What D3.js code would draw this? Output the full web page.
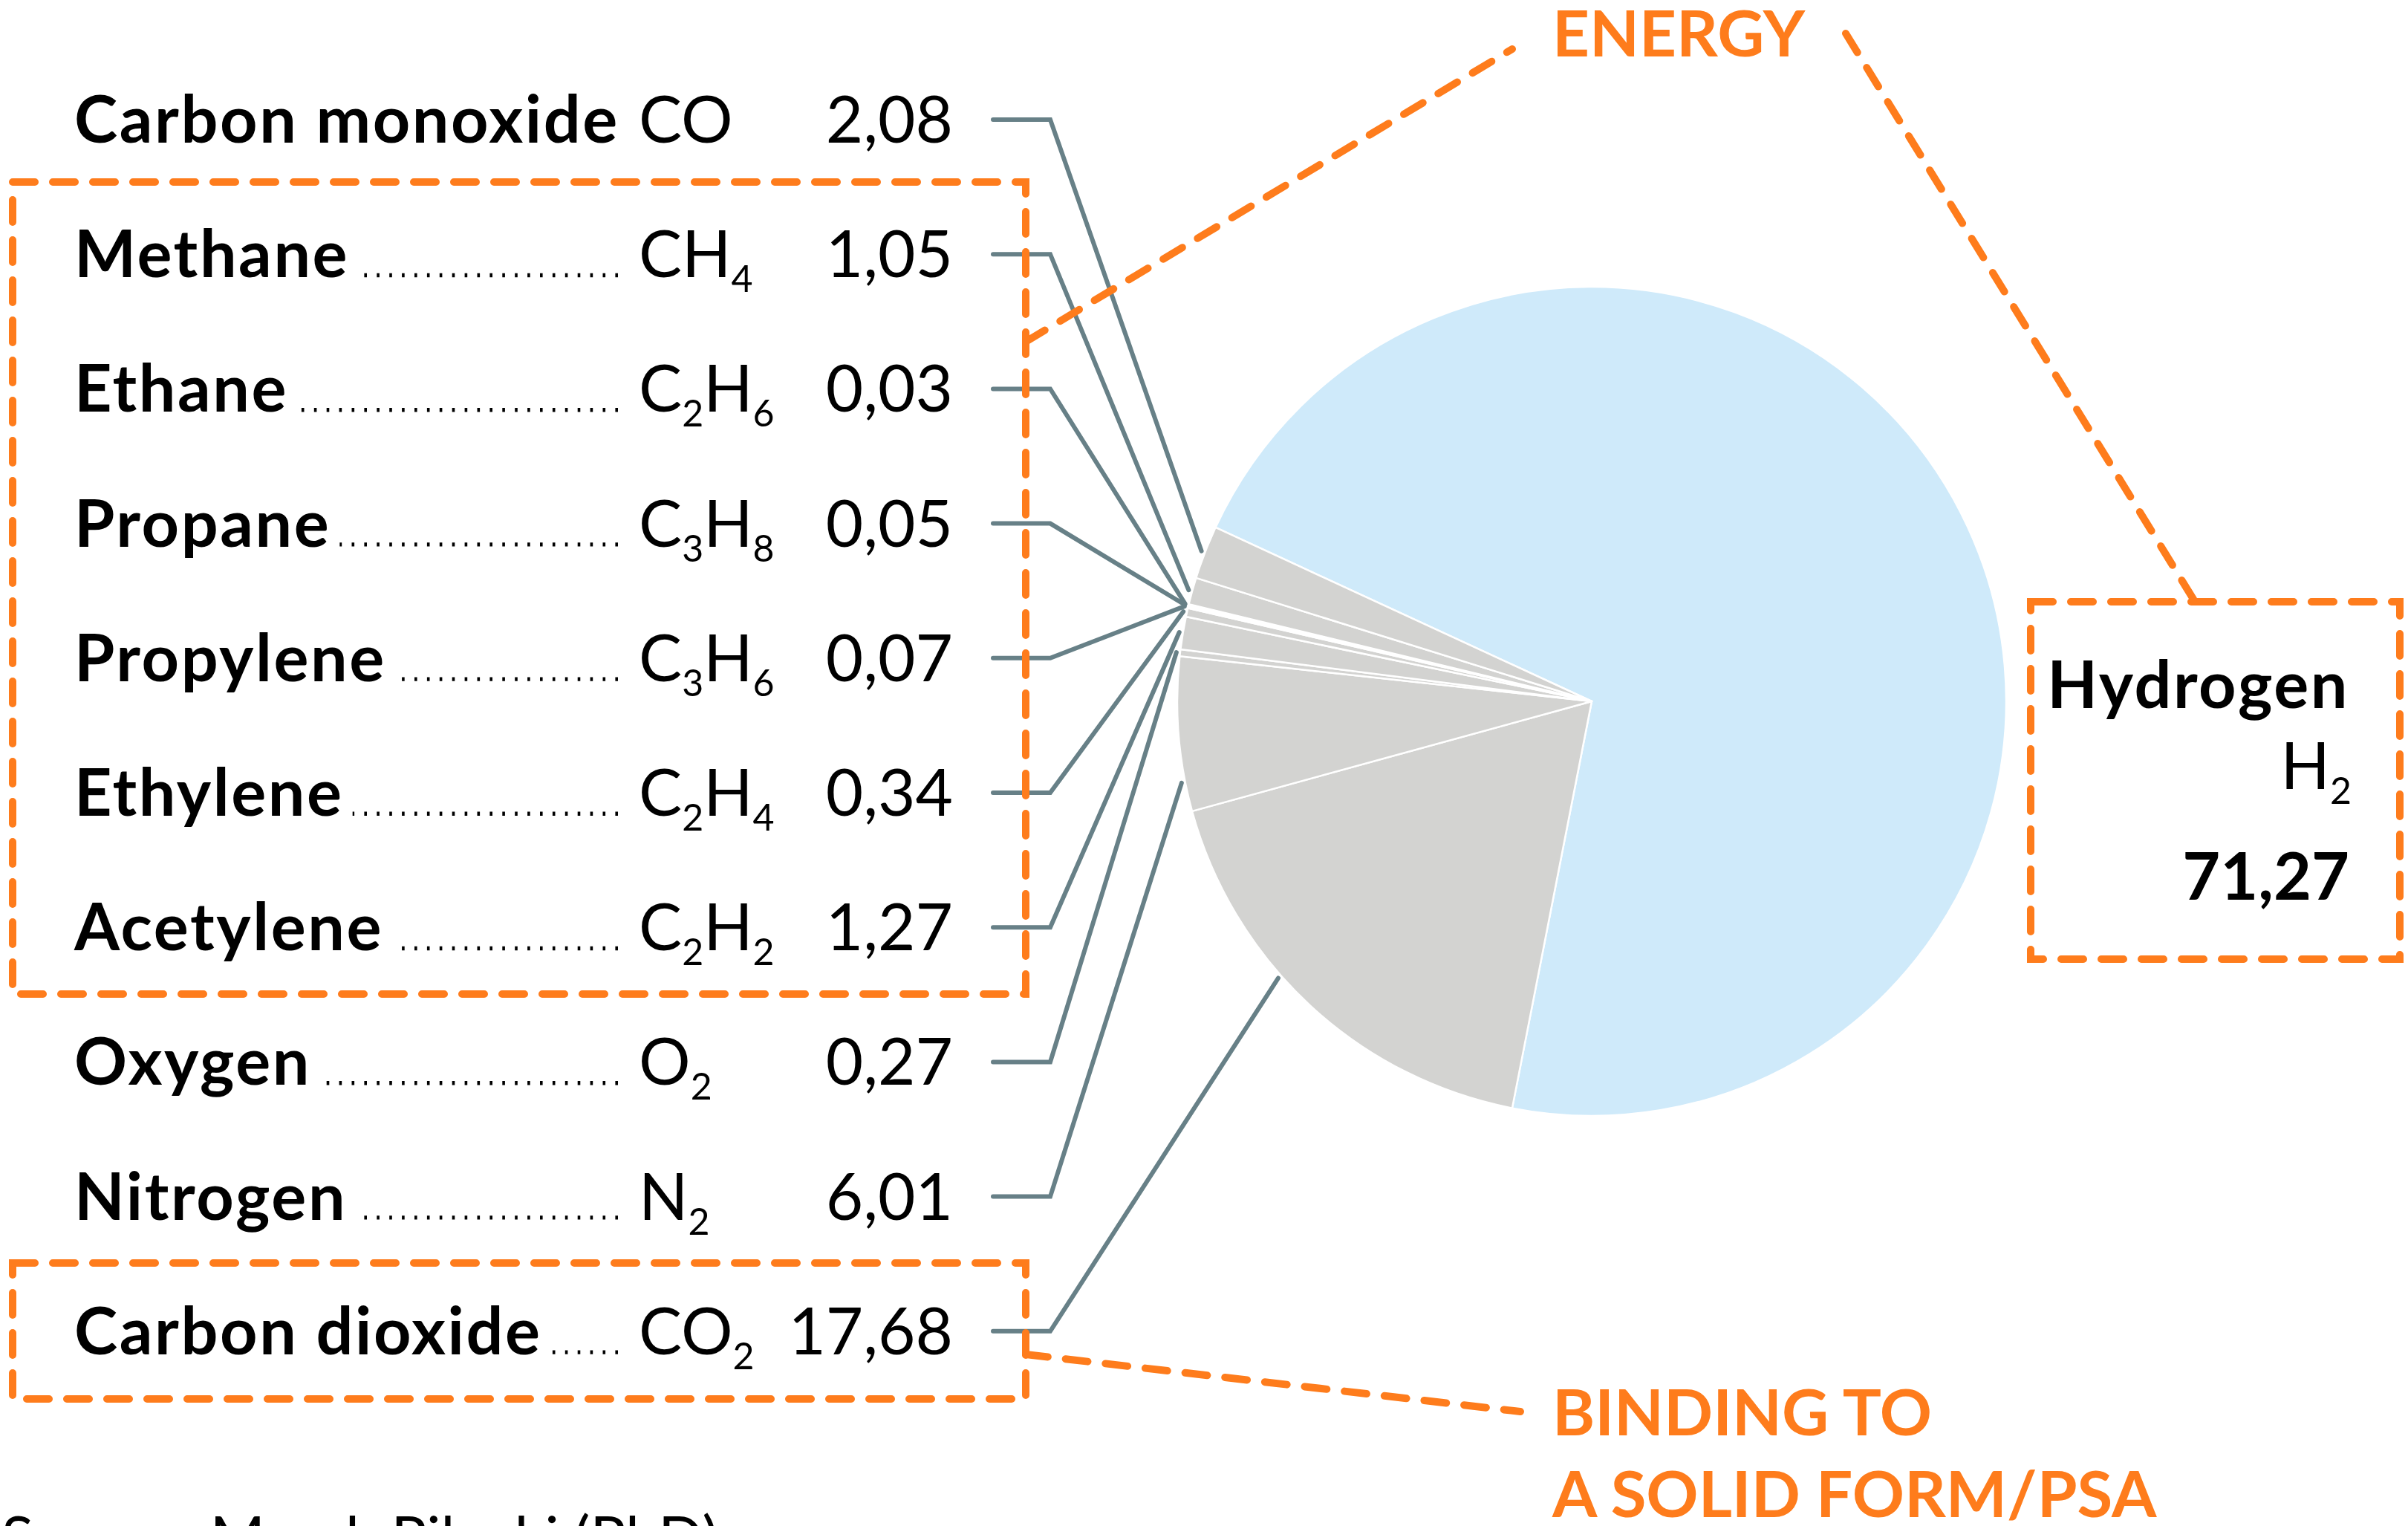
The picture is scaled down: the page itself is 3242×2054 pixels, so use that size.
<!DOCTYPE html>
<html>
<head>
<meta charset="utf-8">
<script src="https://cdn.jsdelivr.net/npm/d3@7"></script>
<style>
  html, body { margin: 0; padding: 0; background: #fff; }
  svg { display: block; }
</style>
</head>
<body>
<svg id="chart" width="3242" height="2054"></svg>
<script>
// Composition of the gas mixture (% by volume)
const gasNames    = ["Carbon monoxide", "Methane", "Ethane", "Propane", "Propylene",
                     "Ethylene", "Acetylene", "Oxygen", "Nitrogen", "Carbon dioxide"];
const gasFormulas = ["CO", "CH4", "C2H6", "C3H8", "C3H6", "C2H4", "C2H2", "O2", "N2", "CO2"];
const gasShares   = [2.08, 1.05, 0.03, 0.05, 0.07, 0.34, 1.27, 0.27, 6.01, 17.68];

const mainName    = "Hydrogen";
const mainFormula = "H2";
const mainShare   = 71.27;

const groupLabels = ["ENERGY", "BINDING TO", "A SOLID FORM/PSA"];
const sourceNote  = "Source: Marek Pilecki (PhD)";

// ---- layout ----
const cx = 2143, cy = 944, R = 558;
const FONT = "Lato, 'Open Sans', sans-serif";
const FS = 87;                 // main text size
const FS_NAME = 88;            // bold gas names
const NAME_SPACING = 2.6;      // extra tracking for the bold names
const SUB = 50;                // subscript size
const SUB_DY = 20;             // subscript drop
const ORANGE = "#fe7c1c";
const LEADER = "#678087";
const BLUE = "#cfeafa";
const GREY = "#d3d3d1";

const nameX = 100, formulaX = 860, valueX = 1283, dotsEnd = 832;
const leadStartX = 1337, leadElbowX = 1414, anchorR = 563;
// where along its slice each leader meets the rim (0 = slice start, 1 = slice end)
const anchorFrac = { "Nitrogen": 0.19, "Carbon dioxide": 0.59 };

const svg = d3.select("#chart");
const comma = d3.formatLocale({ decimal: ",", thousands: ".", grouping: [3], currency: ["", ""] }).format(".2f");

const rowY = d3.scalePoint().domain(gasNames).range([161, 161 + 9 * 181.2]);

// ---- pie ----
const rows = gasNames.map((n, i) => ({ name: n, formula: gasFormulas[i], value: gasShares[i] }));
const pieData = [{ name: mainName, formula: mainFormula, value: mainShare, main: true }]
  .concat(rows.slice().reverse());

const start = -65.2 * Math.PI / 180;
const pie = d3.pie().sort(null).value(d => d.value).startAngle(start).endAngle(start + 2 * Math.PI);
const arcs = pie(pieData);
const arc = d3.arc().innerRadius(0).outerRadius(R);

const gPie = svg.append("g").attr("transform", `translate(${cx},${cy})`);
gPie.selectAll("path").data(arcs).join("path")
  .attr("d", arc)
  .attr("fill", d => d.data.main ? BLUE : GREY)
  .attr("stroke", "#fff")
  .attr("stroke-width", 2.5)
  .attr("stroke-linejoin", "round");

// ---- leader lines ----
const arcByName = new Map(arcs.map(a => [a.data.name, a]));
const line = d3.line();
svg.append("g").selectAll("path").data(rows).join("path")
  .attr("d", d => {
    const a = arcByName.get(d.name);
    const f = anchorFrac[d.name] ?? 0.5;
    const ang = a.startAngle + f * (a.endAngle - a.startAngle);
    const y = rowY(d.name);
    return line([[leadStartX, y], [leadElbowX, y],
                 [cx + anchorR * Math.sin(ang), cy - anchorR * Math.cos(ang)]]);
  })
  .attr("fill", "none")
  .attr("stroke", LEADER)
  .attr("stroke-width", 6)
  .attr("stroke-linecap", "round")
  .attr("stroke-linejoin", "miter");

// ---- formula with subscripts ----
function writeFormula(textSel, formula) {
  let sub = false;
  formula.match(/[A-Za-z]+|\d+/g).forEach(part => {
    const isSub = /\d/.test(part);
    const t = textSel.append("tspan").text(part);
    if (isSub) { t.attr("font-size", SUB); if (!sub) t.attr("dy", SUB_DY); }
    else if (sub) t.attr("dy", -SUB_DY);
    sub = isSub;
  });
}

// ---- label rows ----
const gRows = svg.append("g").attr("font-family", FONT).attr("fill", "#000");
rows.forEach(d => {
  const base = rowY(d.name) + 31;
  const nameText = gRows.append("text")
    .attr("x", nameX).attr("y", base)
    .attr("font-size", FS_NAME).attr("font-weight", 700)
    .attr("letter-spacing", NAME_SPACING)
    .text(d.name);
  const endX = nameX + nameText.node().getComputedTextLength();
  if (dotsEnd - endX > 50) {
    gRows.append("line")
      .attr("x1", dotsEnd).attr("x2", endX + 12)
      .attr("y1", base - 2.7).attr("y2", base - 2.7)
      .attr("stroke", "#000").attr("stroke-width", 5.4)
      .attr("stroke-dasharray", "3.6 13.3");
  }
  const f = gRows.append("text")
    .attr("x", formulaX).attr("y", base)
    .attr("font-size", FS).attr("font-weight", 400);
  writeFormula(f, d.formula);
  gRows.append("text")
    .attr("x", valueX).attr("y", base)
    .attr("text-anchor", "end")
    .attr("font-size", FS).attr("font-weight", 400)
    .text(comma(d.value));
});

// ---- hydrogen label ----
const gMain = svg.append("g").attr("font-family", FONT).attr("fill", "#000").attr("text-anchor", "end");
gMain.append("text").attr("x", 3163).attr("y", 953)
  .attr("font-size", FS_NAME).attr("font-weight", 700)
  .attr("letter-spacing", NAME_SPACING).text(mainName);
const hf = gMain.append("text").attr("x", 3166).attr("y", 1062)
  .attr("font-size", FS).attr("font-weight", 400);
writeFormula(hf, mainFormula);
gMain.append("text").attr("x", 3163).attr("y", 1211)
  .attr("font-size", FS_NAME).attr("font-weight", 700).text(comma(mainShare));

// ---- orange grouping frames and pointers ----
const gOr = svg.append("g")
  .attr("fill", "none").attr("stroke", ORANGE).attr("stroke-width", 10)
  .attr("stroke-linecap", "round").attr("stroke-dasharray", "30 24");

const frames = [
  [17, 245, 1381, 1338],     // energy gases
  [17, 1700, 1381, 1883],    // carbon dioxide
  [2734, 810, 3231, 1291]    // hydrogen
];
gOr.selectAll("path.frame").data(frames).join("path")
  .attr("class", "frame")
  .attr("d", ([x0, y0, x1, y1]) => `M${x0},${y0}H${x1}V${y1}H${x0}Z`);

const pointers = [
  [[1381, 460], [2036, 66]],
  [[2485, 45], [2954, 808]],
  [[1381, 1823], [2047, 1900]]
];
gOr.selectAll("path.pointer").data(pointers).join("path")
  .attr("class", "pointer")
  .attr("d", d => line(d));

const gTxt = svg.append("g").attr("font-family", FONT).attr("fill", ORANGE)
  .attr("font-size", FS).attr("font-weight", 700);
gTxt.append("text").attr("x", 2090).attr("y", 76).text(groupLabels[0]);
gTxt.append("text").attr("x", 2090).attr("y", 1932).text(groupLabels[1]);
gTxt.append("text").attr("x", 2090).attr("y", 2042).text(groupLabels[2]);

// ---- source note (runs off the lower edge) ----
svg.append("text").attr("x", 2).attr("y", 2098)
  .attr("font-family", FONT).attr("font-size", 80).attr("font-weight", 400)
  .attr("fill", "#000").text(sourceNote);
</script>
</body>
</html>
